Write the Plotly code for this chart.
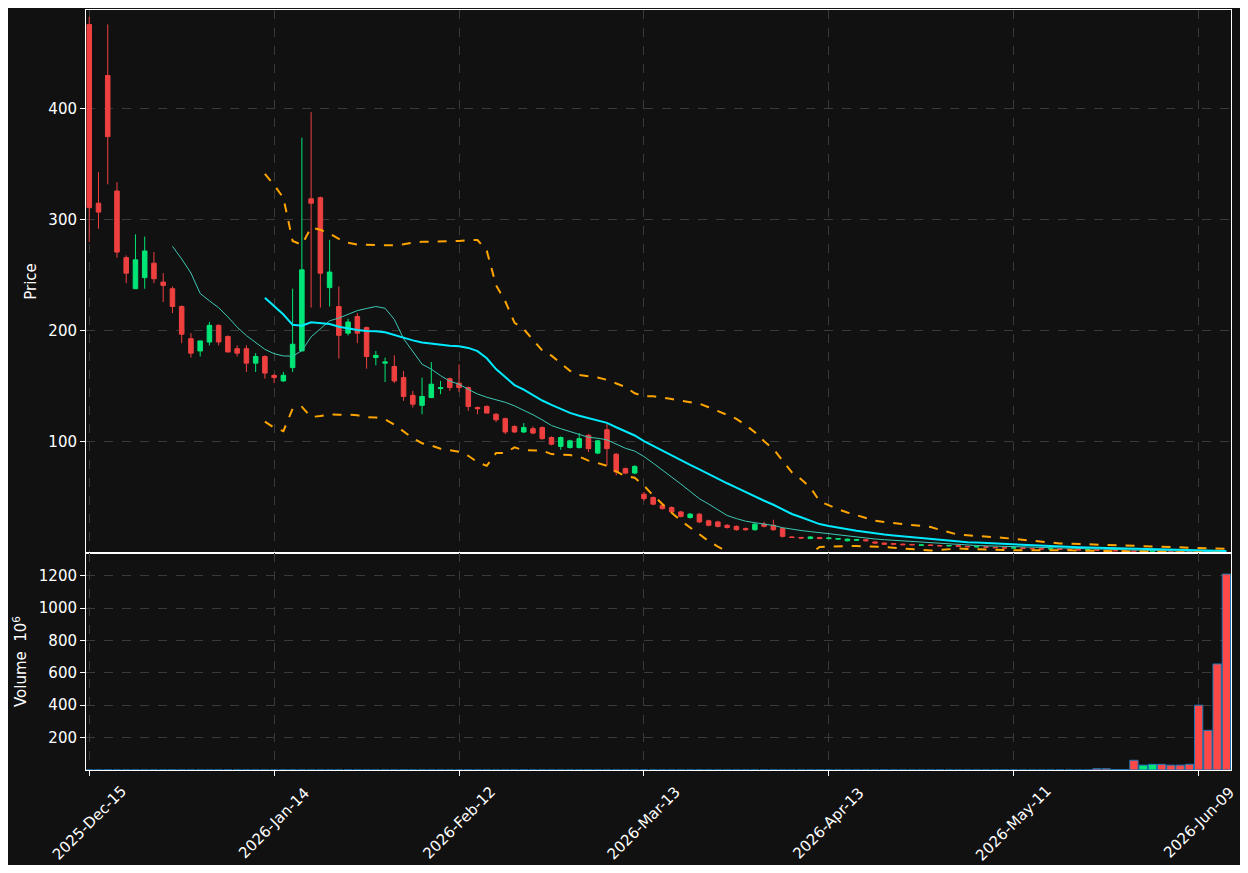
import pandas as pd
import plotly.graph_objects as go
from plotly.subplots import make_subplots

opens = [476, 315, 430, 326, 266, 238, 248, 261, 244, 238, 222, 193, 182, 190, 205, 195, 184, 184, 171, 177,
         160, 155, 167, 182, 319, 320, 239, 222, 198, 213, 203, 176, 171, 168, 158, 142, 133, 140, 148, 157,
         153, 149, 131, 132, 125, 121, 114, 109, 112, 113, 104, 96, 95, 95, 106, 90, 111, 89, 76, 72,
         53, 50, 43, 41, 37, 32, 35, 29, 28, 25, 24, 22, 21, 26, 25, 22, 14.5, 14, 13, 14,
         13, 12.5, 11, 11.5, 12, 10, 9, 8.5, 8, 7.8, 7, 7.3, 6.8, 6.4, 6.7, 6.0, 5.6, 5.7, 5.2, 4.8,
         4.5, 4.7, 4.2, 3.9, 3.6, 3.8, 3.3, 3.0, 2.8, 2.9, 2.5, 2.2, 2.0, 1.9, 1.5, 1.7, 1.8, 1.6, 1.45, 1.35,
         1.25, 0.9, 0.75, 0.55]
highs = [483, 343, 476, 334, 268, 287, 285, 271, 252, 240, 223, 198, 191, 208, 206, 196, 187, 187, 180, 178,
         161, 163, 238, 374, 397, 321, 282, 240, 211, 216, 204, 182, 176, 178, 164, 146, 158, 172, 155, 158,
         170, 150, 132, 133, 126, 122, 115, 117, 114, 114, 105, 105, 102, 108, 107, 102, 117, 90, 77, 79,
         55, 51, 44, 42, 38, 36, 36, 30, 29, 26, 25, 23, 27, 28, 30, 23, 15, 14.5, 15, 14.5,
         14, 13.5, 13, 12.5, 12.5, 10.5, 9.5, 9, 8.5, 8, 7.6, 7.5, 7.0, 6.9, 6.8, 6.1, 5.9, 5.8, 5.3, 5.0,
         4.9, 4.8, 4.3, 4.0, 3.9, 3.9, 3.4, 3.1, 3.0, 3.0, 2.6, 2.3, 2.1, 2.0, 1.8, 1.9, 1.85, 1.65, 1.5, 1.4,
         1.3, 0.95, 0.8, 0.6]
lows = [280, 292, 332, 266, 243, 238, 238, 243, 226, 216, 189, 176, 177, 187, 187, 181, 177, 163, 163, 157,
        153, 154, 163, 182, 221, 221, 222, 175, 196, 189, 166, 169, 154, 153, 137, 131, 125, 140, 143, 146,
        145, 128, 125, 126, 118, 107, 108, 108, 107, 102, 97, 93, 94, 94, 91, 89, 79, 70, 71, 71,
        47, 43, 39, 36, 32, 31, 27, 24, 23, 22, 20, 20, 20, 23, 20, 14, 13.5, 13, 12.5, 12.5,
        12.5, 12, 10.5, 11, 10.5, 8.5, 7.5, 7.5, 7, 7, 6.8, 6.6, 6.2, 6.2, 5.8, 5.4, 5.3, 5.0, 4.6, 4.4,
        4.4, 4.0, 3.7, 3.4, 3.5, 3.2, 2.9, 2.6, 2.6, 2.4, 2.1, 1.9, 1.8, 1.4, 1.4, 1.6, 1.5, 1.4, 1.3, 1.2,
        0.8, 0.7, 0.5, 0.35]
closes = [311, 307, 375, 271, 252, 264, 272, 247, 241, 222, 197, 180, 191, 205, 190, 181, 180, 171, 177, 162,
          158, 160, 188, 255, 315, 252, 253, 196, 208, 198, 177, 178, 172, 155, 141, 134, 141, 152, 149, 149,
          149, 132, 130, 126, 120, 109, 109, 113, 108, 103, 98, 104, 101, 103, 94, 101, 94, 73, 72, 78,
          49, 44, 40, 37, 33, 35, 28, 25, 24, 23, 21, 21, 26, 24, 21, 15, 14, 13.5, 14.5, 13,
          13.5, 13, 12.5, 12, 11, 9, 8, 8, 7.5, 7.4, 7.3, 6.8, 6.4, 6.7, 6.0, 5.6, 5.7, 5.2, 4.8, 4.5,
          4.7, 4.2, 3.9, 3.6, 3.8, 3.3, 3.0, 2.8, 2.9, 2.5, 2.2, 2.0, 1.9, 1.5, 1.7, 1.8, 1.6, 1.45, 1.35, 1.25,
          0.9, 0.75, 0.55, 0.4]
volumes = [0.2] * 109 + [8, 8, 3, 3, 60, 30, 35, 35, 30, 30, 35, 400, 245, 655, 1210]

tick_pos = [0, 20, 40, 60, 80, 100, 120]
tick_labels = ["2025-Dec-15", "2026-Jan-14", "2026-Feb-12", "2026-Mar-13",
               "2026-Apr-13", "2026-May-11", "2026-Jun-09"]

up = "#00e676"
down = "#ef4040"

idx = list(range(len(closes)))
c = pd.Series(closes)
ma10 = c.rolling(10).mean()
ma20 = c.rolling(20).mean()
sd20 = c.rolling(20).std(ddof=0)
upper = ma20 + 2 * sd20
lower = ma20 - 2 * sd20

fig = make_subplots(rows=2, cols=1, shared_xaxes=True, vertical_spacing=0,
                    row_heights=[0.7145, 0.2855])

fig.add_trace(go.Candlestick(x=idx, open=opens, high=highs, low=lows, close=closes,
                             increasing=dict(line=dict(color=up, width=1), fillcolor=up),
                             decreasing=dict(line=dict(color=down, width=1), fillcolor=down),
                             whiskerwidth=0, showlegend=False), row=1, col=1)
fig.add_trace(go.Scatter(x=idx, y=ma10, mode="lines", line=dict(color="#3cc8b4", width=1),
                         showlegend=False), row=1, col=1)
fig.add_trace(go.Scatter(x=idx, y=ma20, mode="lines", line=dict(color="#00eaff", width=2),
                         showlegend=False), row=1, col=1)
for band in (upper, lower):
    fig.add_trace(go.Scatter(x=idx, y=band, mode="lines",
                             line=dict(color="#ffa500", width=2, dash="dash"),
                             showlegend=False), row=1, col=1)

vcolors = [up if cl >= op else "#ff4848" for op, cl in zip(opens, closes)]
fig.add_trace(go.Bar(x=idx, y=volumes, marker=dict(color=vcolors, line=dict(color="#1f77b4", width=1)),
                     width=0.9, showlegend=False), row=2, col=1)

grid = dict(showgrid=True, gridcolor="#3a3a3a", griddash="dash", gridwidth=1,
            showline=True, linecolor="white", linewidth=1, mirror=True,
            zeroline=False, tickfont=dict(color="white", size=15), ticks="outside",
            tickcolor="white")

# page body has an 8px margin, so the figure is shrunk to fit the window
fig.update_layout(width=1232, height=857, paper_bgcolor="#111111", plot_bgcolor="#111111",
                  margin=dict(l=78, r=9, t=2, b=95),
                  font=dict(family="DejaVu Sans", color="white", size=15))
fig.update_xaxes(**grid, range=[-0.35, 123.5], tickmode="array", tickvals=tick_pos,
                 showticklabels=False, rangeslider=dict(visible=False))
fig.update_yaxes(**grid)
fig.update_yaxes(range=[0, 489], tickvals=[100, 200, 300, 400],
                 title=dict(text="Price", font=dict(size=15), standoff=8), row=1, col=1)
fig.update_yaxes(range=[0, 1340], tickvals=[200, 400, 600, 800, 1000, 1200],
                 title=dict(text="Volume  10<sup>6</sup>", font=dict(size=15), standoff=8), row=2, col=1)

# date labels centred under their ticks, like matplotlib's rotated labels
for pos, lab in zip(tick_pos, tick_labels):
    fig.add_annotation(x=pos, xref="x2", y=0, yref="paper", yshift=-53, text=lab,
                       textangle=-45, showarrow=False, xanchor="center", yanchor="middle",
                       font=dict(size=15, color="white"))

fig.write_html("out.html")
